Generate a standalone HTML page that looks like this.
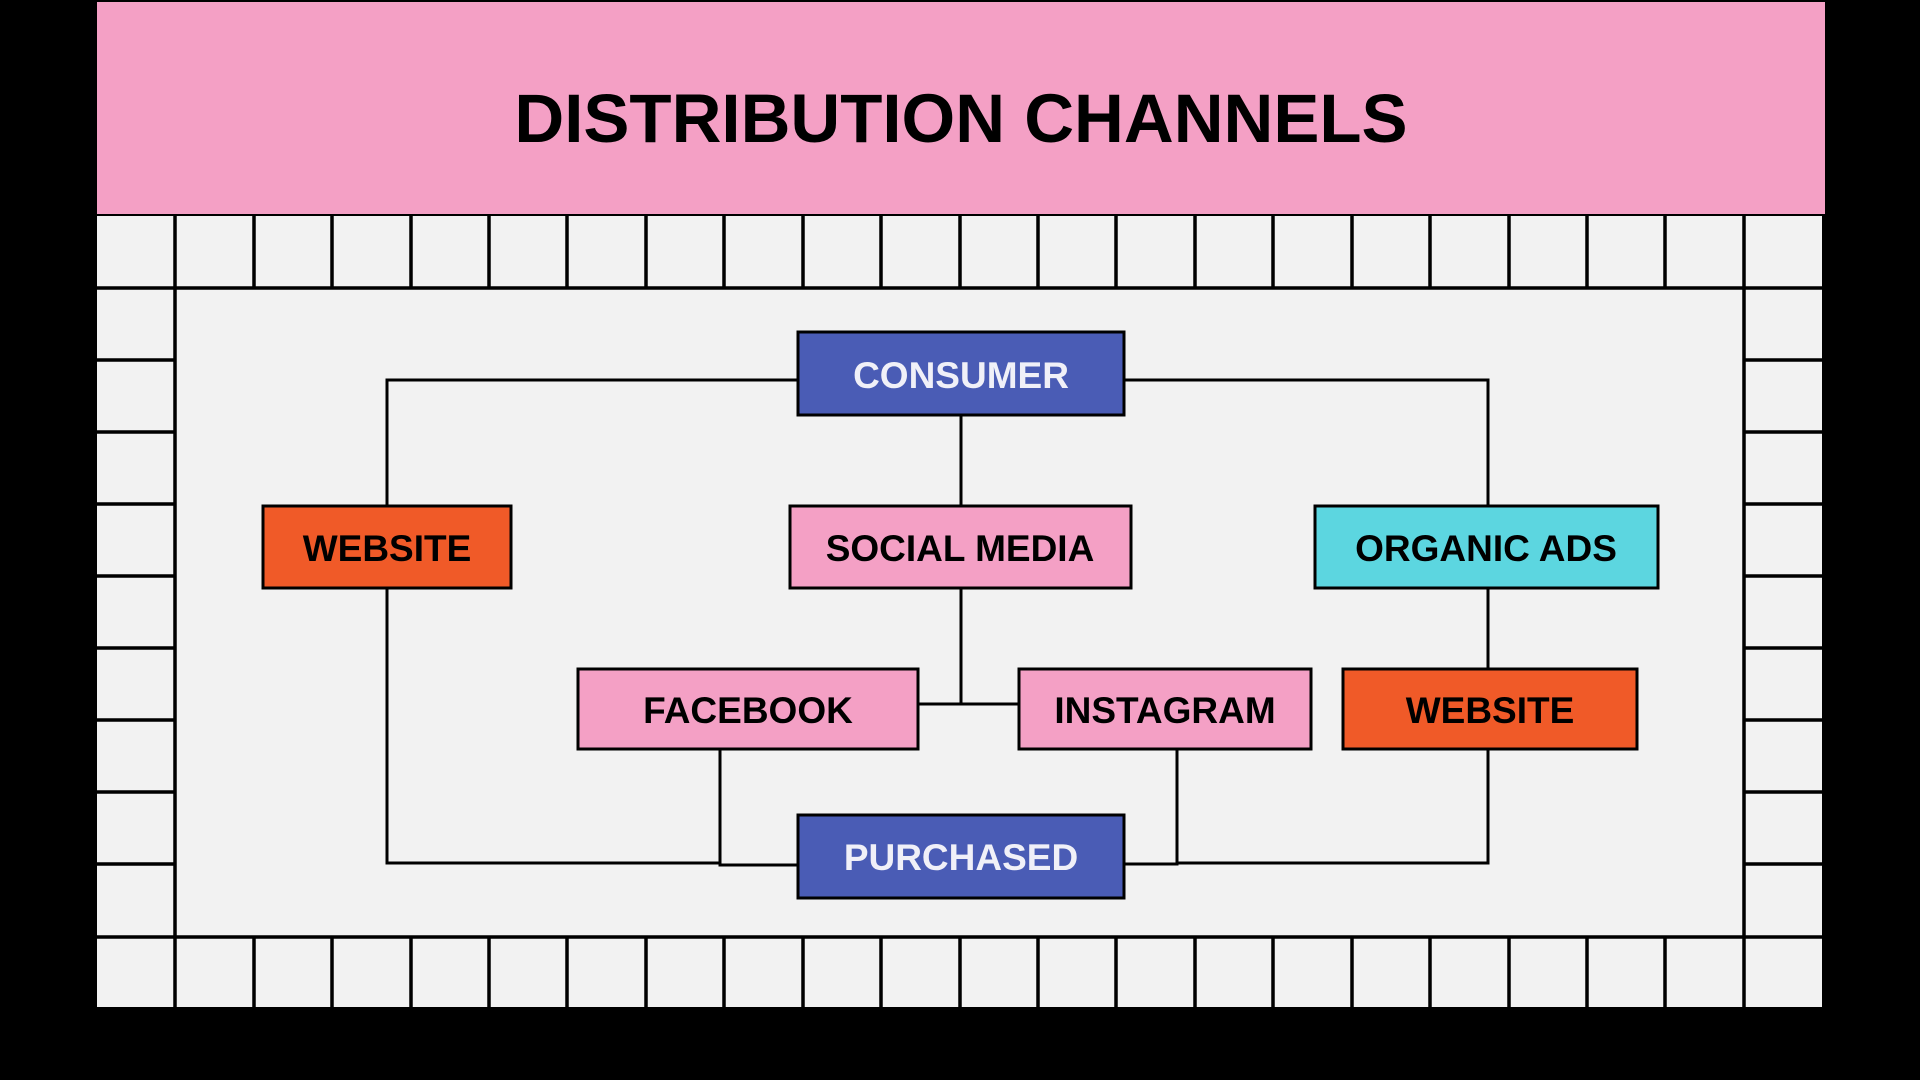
<!DOCTYPE html>
<html><head><meta charset="utf-8"><style>
html,body{margin:0;padding:0;background:#000;}
svg{display:block}
text{font-family:"Liberation Sans",sans-serif;font-weight:bold;}
</style></head><body>
<svg width="1920" height="1080" viewBox="0 0 1920 1080" xmlns="http://www.w3.org/2000/svg">
<rect width="1920" height="1080" fill="#000"/>
<rect x="97" y="216" width="1725" height="791" fill="#f2f2f2"/>
<rect x="97" y="2" width="1728" height="212" fill="#f4a0c5"/>
<text x="961" y="142" font-size="69" text-anchor="middle" fill="#000">DISTRIBUTION CHANNELS</text>
<g stroke="#000" stroke-width="3" fill="none">
<polyline points="798,380 387,380 387,506"/>
<polyline points="1124,380 1488,380 1488,506"/>
<line x1="961" y1="415" x2="961" y2="506"/>
<polyline points="961,588 961,704"/>
<line x1="918" y1="704" x2="1019" y2="704"/>
<polyline points="387,588 387,863 720,863"/>
<polyline points="720,749 720,865 798,865"/>
<polyline points="1177,749 1177,864 1124,864"/>
<polyline points="1488,749 1488,863 1177,863"/>
<line x1="1488" y1="588" x2="1488" y2="669"/>
</g>
<g stroke="#000" stroke-width="3">
<rect x="798" y="332" width="326" height="83" fill="#4a5cb5"/>
<rect x="263" y="506" width="248" height="82" fill="#f05a28"/>
<rect x="790" y="506" width="341" height="82" fill="#f4a0c5"/>
<rect x="1315" y="506" width="343" height="82" fill="#5cd6e0"/>
<rect x="578" y="669" width="340" height="80" fill="#f4a0c5"/>
<rect x="1019" y="669" width="292" height="80" fill="#f4a0c5"/>
<rect x="1343" y="669" width="294" height="80" fill="#f05a28"/>
<rect x="798" y="815" width="326" height="83" fill="#4a5cb5"/>
</g>
<g font-size="37" text-anchor="middle">
<text x="961" y="388" fill="#f0f0f8">CONSUMER</text>
<text x="387" y="561" fill="#000">WEBSITE</text>
<text x="960" y="561" fill="#000">SOCIAL MEDIA</text>
<text x="1486" y="561" fill="#000">ORGANIC ADS</text>
<text x="748" y="723" fill="#000">FACEBOOK</text>
<text x="1165" y="723" fill="#000">INSTAGRAM</text>
<text x="1490" y="723" fill="#000">WEBSITE</text>
<text x="961" y="870" fill="#f0f0f8">PURCHASED</text>
</g>
<g stroke="#000" stroke-width="3.5" fill="none">
<line x1="97" y1="288" x2="1822" y2="288"/>
<line x1="97" y1="937" x2="1822" y2="937"/>
<line x1="175" y1="216" x2="175" y2="1007"/>
<line x1="1744" y1="216" x2="1744" y2="1007"/>
<path d="M254 216V288M332 216V288M411 216V288M489 216V288M567 216V288M646 216V288M724 216V288M803 216V288M881 216V288M960 216V288M1038 216V288M1116 216V288M1195 216V288M1273 216V288M1352 216V288M1430 216V288M1509 216V288M1587 216V288M1665 216V288"/>
<path d="M254 937V1007M332 937V1007M411 937V1007M489 937V1007M567 937V1007M646 937V1007M724 937V1007M803 937V1007M881 937V1007M960 937V1007M1038 937V1007M1116 937V1007M1195 937V1007M1273 937V1007M1352 937V1007M1430 937V1007M1509 937V1007M1587 937V1007M1665 937V1007"/>
<path d="M97 360H175M97 432H175M97 504H175M97 576H175M97 648H175M97 720H175M97 792H175M97 864H175"/>
<path d="M1744 360H1822M1744 432H1822M1744 504H1822M1744 576H1822M1744 648H1822M1744 720H1822M1744 792H1822M1744 864H1822"/>
</g>
</svg>
</body></html>
